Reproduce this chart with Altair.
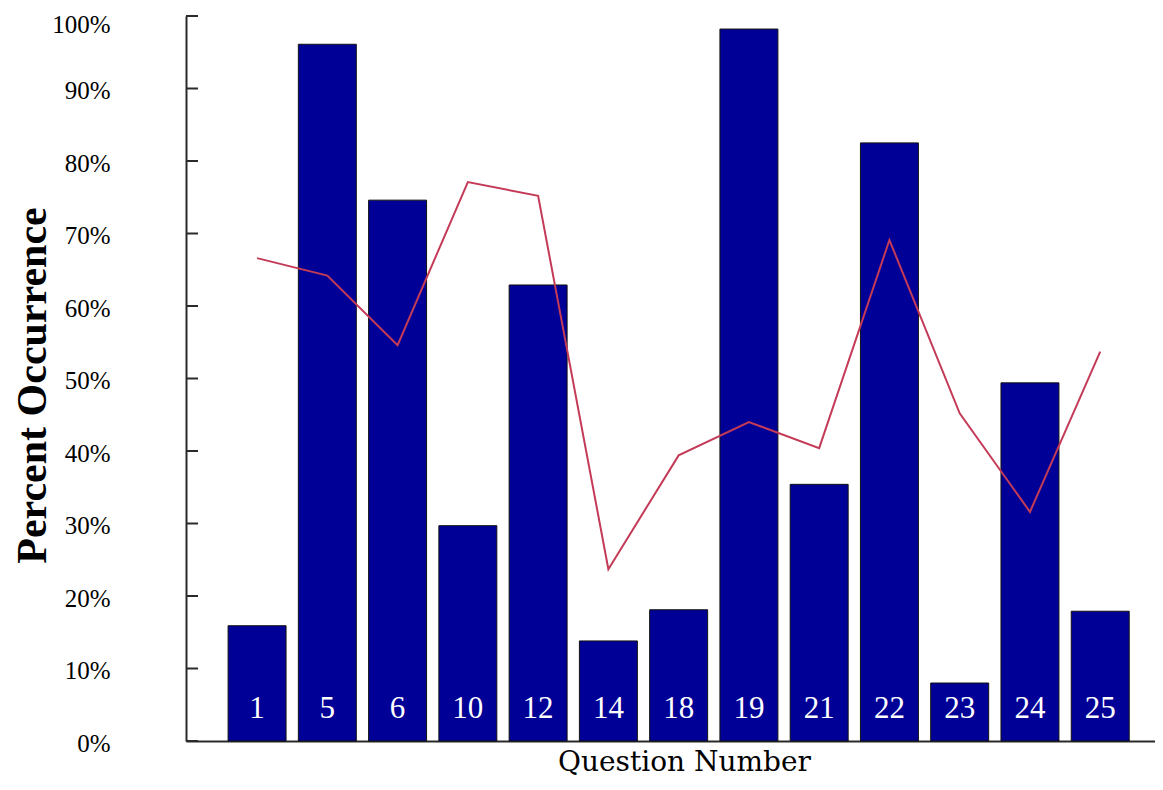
import altair as alt
import pandas as pd

# Data
questions = ["1", "5", "6", "10", "12", "14", "18", "19", "21", "22", "23", "24", "25"]
bar_values = [0.159, 0.961, 0.746, 0.297, 0.629, 0.138, 0.181, 0.982, 0.354, 0.825, 0.080, 0.494, 0.179]
line_values = [0.666, 0.642, 0.546, 0.771, 0.752, 0.237, 0.394, 0.440, 0.404, 0.691, 0.452, 0.316, 0.537]
tick_values = [0.0, 0.1, 0.2, 0.3, 0.4, 0.5, 0.6, 0.7, 0.8, 0.9, 1.0]

df = pd.DataFrame({"q": questions, "bar": bar_values, "line": line_values})
ticks_df = pd.DataFrame({"t": tick_values})

SERIF = "Liberation Serif"
AXIS_COLOR = "#2a2a2a"

x_enc = alt.X(
    "q:N",
    sort=None,
    scale=alt.Scale(paddingInner=0.175, paddingOuter=0.483, align=0.62),
    axis=alt.Axis(
        labels=False,
        ticks=False,
        domainColor=AXIS_COLOR,
        domainWidth=2,
        title="Question Number",
        titleFont="DejaVu Serif",
        titleFontSize=28,
        titleFontWeight="normal",
        titleColor="black",
        titleX=498,
        titleY=29,
        titleAlign="center",
        titleBaseline="alphabetic",
    ),
)

y_scale = alt.Scale(domain=[0, 1], nice=False, zero=True)
y_axis = alt.Axis(
    values=tick_values,
    format=".0%",
    ticks=False,
    grid=False,
    domainColor=AXIS_COLOR,
    domainWidth=2,
    labelFont=SERIF,
    labelFontSize=25,
    labelColor="black",
    labelPadding=76,
    labelAlign="right",
    labelOffset={"condition": {"test": "datum.value === 1", "value": 8}, "value": 2},
    title="Percent Occurrence",
    titleFont=SERIF,
    titleFontSize=42,
    titleFontWeight="bold",
    titleColor="black",
    titleAngle=-90,
    titleX=-141,
    titleY=369,
    titleAlign="center",
    titleBaseline="alphabetic",
)

base = alt.Chart(df)

bars = base.mark_bar(color="#000096", stroke="#111111", strokeWidth=1).encode(
    x=x_enc,
    y=alt.Y("bar:Q", scale=y_scale, axis=y_axis),
)

line = base.mark_line(color="#c43b58", strokeWidth=2).encode(
    x=alt.X("q:N", sort=None),
    y=alt.Y("line:Q"),
)

labels = base.mark_text(
    color="white",
    font=SERIF,
    fontSize=31,
    baseline="alphabetic",
    align="center",
    dy=-23,
).encode(
    x=alt.X("q:N", sort=None),
    y=alt.datum(0),
    text="q:N",
)

tick_marks = alt.Chart(ticks_df).mark_rule(color=AXIS_COLOR, strokeWidth=2).encode(
    y=alt.Y("t:Q"),
    x=alt.value(0),
    x2=alt.value(12),
)

chart = (
    alt.layer(bars, line, labels, tick_marks)
    .properties(
        width=969,
        height=725,
        autosize=alt.AutoSizeParams(type="none"),
        padding={"left": 178, "top": 8, "right": 0, "bottom": 37},
        background="white",
    )
    .configure_view(stroke=None)
)

chart.save("out.html", embed_options={"renderer": "svg", "actions": False})
